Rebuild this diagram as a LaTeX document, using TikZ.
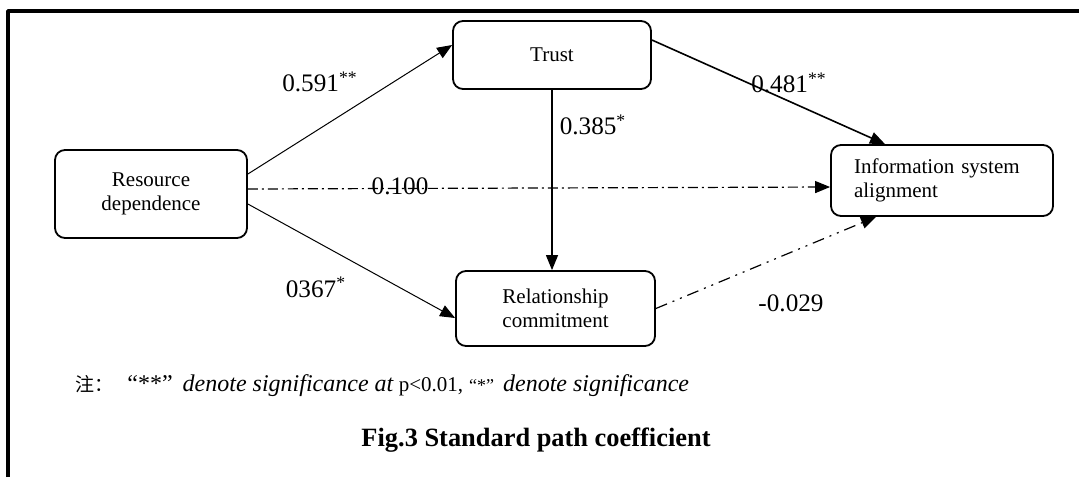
\documentclass[tikz,border=0pt]{standalone}
\usepackage{fontspec}
\setmainfont{Liberation Serif}
\newfontfamily\cjk{Noto Sans CJK SC}
\usetikzlibrary{arrows.meta}
\begin{document}
\begin{tikzpicture}[x=0.5pt,y=-0.5pt,line join=round,>={Triangle[length=7.5pt,width=6pt]},
  box/.style={draw,line width=0.9pt,rounded corners=5pt,align=center,inner sep=0pt,font=\fontsize{10.5}{12.2}\selectfont},
  coef/.style={inner sep=0pt,font=\fontsize{12.6}{14}\selectfont},
  dashdot/.style={dash pattern=on 5pt off 2pt on 1pt off 2pt},
  dashdotdot/.style={dash pattern=on 6pt off 3pt on 1pt off 3pt on 1pt off 3pt}]
\useasboundingbox (0,0) rectangle (1079,477);
\draw[line width=1.8pt] (8,477) -- (8,11) -- (1079,11);
\node[box,minimum width=96pt,minimum height=44pt] (rd) at (151,194) {Resource\\dependence};
\node[box,minimum width=99pt,minimum height=34pt] (trust) at (552,55) {Trust};
\node[box,minimum width=111pt,minimum height=35.5pt,align=left,text width=88pt,inner xsep=11.5pt] (isa) at (942,180.5) {Information system\\alignment};
\node[box,minimum width=99.5pt,minimum height=37.5pt] (rc) at (555.5,308.5) {Relationship\\commitment};
\draw[->,line width=0.5pt] ([yshift=10pt]rd.east) -- ([yshift=5pt]trust.west);
\draw[->,line width=0.5pt] ([yshift=-5pt]rd.east) -- ([yshift=-4.75pt]rc.west);
\draw[->,line width=0.6pt,dashdot] ([yshift=2.5pt]rd.east) -- ([yshift=-3.25pt]isa.west);
\draw[->,line width=0.8pt] ([yshift=7.5pt]trust.east) -- ([xshift=-28.5pt]isa.north);
\draw[->,line width=0.6pt] (trust.south) -- (trust.south |- rc.north);
\draw[->,line width=0.6pt,dashdotdot] (rc.east) -- ([xshift=-33pt]isa.south);
\node[coef] (c591) at (320,82) {0.591\textsuperscript{**}};
\node[coef] (c385) at (593,125) {0.385\textsuperscript{*}};
\node[coef] (c481) at (789,83) {0.481\textsuperscript{**}};
\node[coef] (c100) at (400,186) {0.100};
\node[coef] (c367) at (316,287) {0367\textsuperscript{*}};
\node[coef] (c029) at (791,303) {-0.029};
\node[anchor=base west,inner sep=0pt,font=\fontsize{12}{14}\selectfont] (note) at (75,391)
  {{\cjk\fontsize{9.5}{12}\selectfont 注：}\hspace{7pt}“**”\hspace{5pt}\textit{denote significance at}\hspace{2.5pt}{\fontsize{10.5}{12}\selectfont p<0.01,}\hspace{3pt}{\fontsize{9}{12}\selectfont “*”}\hspace{4.5pt}\textit{denote significance}};
\node[anchor=base,inner sep=0pt,font=\bfseries\fontsize{13.2}{15}\selectfont] (caption) at (536,446) {Fig.3 Standard path coefficient};
\end{tikzpicture}
\end{document}
